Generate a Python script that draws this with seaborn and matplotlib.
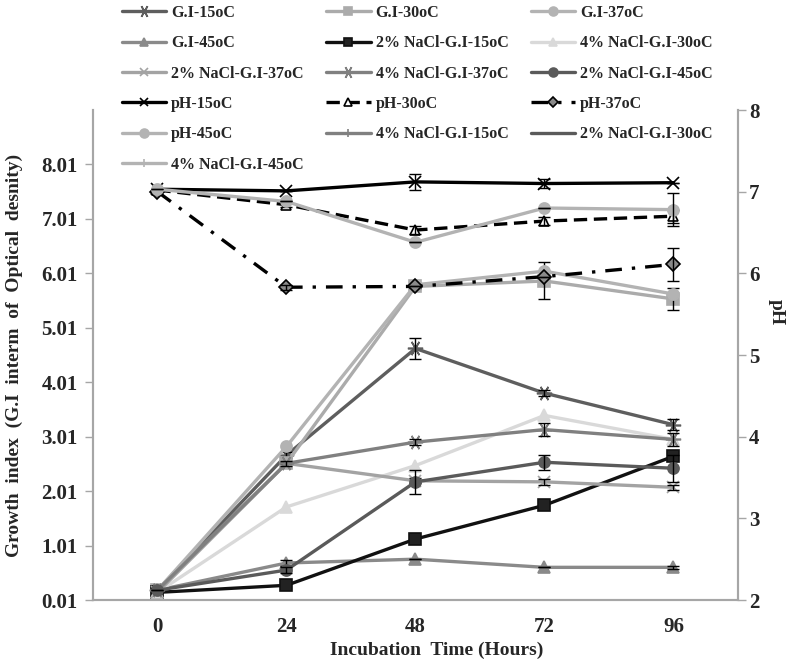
import matplotlib
matplotlib.use("Agg")
import matplotlib.pyplot as plt
import seaborn as sns

# Incubation times (hours)
hours = [0, 24, 48, 72, 96]

# Growth index (left axis)
gi_15 = [0.19, 2.67, 4.63, 3.81, 3.23]
gi_30 = [0.19, 2.52, 5.77, 5.87, 5.54]
gi_37 = [0.19, 2.83, 5.80, 6.05, 5.63]
gi_45 = [0.19, 0.69, 0.76, 0.61, 0.61]
nacl2_15 = [0.15, 0.28, 1.13, 1.75, 2.65]
nacl4_30 = [0.15, 1.72, 2.48, 3.40, 2.96]
nacl2_37 = [0.15, 2.52, 2.20, 2.18, 2.08]
nacl4_37 = [0.19, 2.52, 2.91, 3.14, 2.96]
nacl2_45 = [0.19, 0.56, 2.18, 2.54, 2.43]

# pH (right axis)
ph_15 = [7.03, 7.01, 7.12, 7.10, 7.11]
ph_30 = [7.02, 6.84, 6.53, 6.64, 6.70]
ph_37 = [7.00, 5.83, 5.84, 5.96, 6.11]
ph_45 = [7.03, 6.88, 6.38, 6.80, 6.78]

# error bars
gi_15_err = [0, 0.05, 0.20, 0.05, 0.10]
gi_30_err = [0, 0, 0.03, 0.34, 0.20]
gi_45_err = [0, 0.05, 0, 0, 0.03]
nacl2_37_err = [0, 0, 0.05, 0.06, 0.05]
nacl4_37_err = [0, 0.05, 0.06, 0.12, 0.12]
nacl2_45_err = [0, 0.05, 0.22, 0.14, 0.25]
ph_15_err = [0, 0, 0.10, 0.06, 0]
ph_30_err = [0, 0.03, 0.05, 0.05, 0.08]
ph_37_err = [0, 0.03, 0, 0, 0.20]
ph_45_err = [0, 0, 0, 0, 0.20]

legend_order = ["G.I-15oC", "G.I-30oC", "G.I-37oC",
                "G.I-45oC", "2% NaCl-G.I-15oC", "4% NaCl-G.I-30oC",
                "2% NaCl-G.I-37oC", "4% NaCl-G.I-37oC", "2% NaCl-G.I-45oC",
                "pH-15oC", "pH-30oC", "pH-37oC",
                "pH-45oC", "4% NaCl-G.I-15oC", "2% NaCl-G.I-30oC",
                "4% NaCl-G.I-45oC"]

sns.set_theme(style="white")
plt.rcParams['font.family'] = ['Liberation Serif', 'DejaVu Serif']
plt.rcParams['font.weight'] = 'bold'

asterisk = (6, 2, 90)

# label, values, errors, axis, color, marker, linestyle, marker face
series = [
    ("G.I-15oC", gi_15, gi_15_err, "left", "#5e5e5e", asterisk, "-", "#5e5e5e"),
    ("G.I-30oC", gi_30, gi_30_err, "left", "#ababab", "s", "-", "#ababab"),
    ("G.I-37oC", gi_37, None, "left", "#b3b3b3", "o", "-", "#b3b3b3"),
    ("G.I-45oC", gi_45, gi_45_err, "left", "#8a8a8a", "^", "-", "#8a8a8a"),
    ("2% NaCl-G.I-15oC", nacl2_15, None, "left", "#111111", "s", "-", "#222222"),
    ("4% NaCl-G.I-30oC", nacl4_30, None, "left", "#d9d9d9", "^", "-", "#d9d9d9"),
    ("2% NaCl-G.I-37oC", nacl2_37, nacl2_37_err, "left", "#a3a3a3", "x", "-", "#a3a3a3"),
    ("4% NaCl-G.I-37oC", nacl4_37, nacl4_37_err, "left", "#808080", asterisk, "-", "#808080"),
    ("2% NaCl-G.I-45oC", nacl2_45, nacl2_45_err, "left", "#5a5a5a", "o", "-", "#5a5a5a"),
    ("pH-15oC", ph_15, ph_15_err, "right", "#000000", "x", "-", "#000000"),
    ("pH-30oC", ph_30, ph_30_err, "right", "#000000", "^", (0, (4, 2)), "white"),
    ("pH-37oC", ph_37, ph_37_err, "right", "#000000", "D", (0, (5, 3, 1, 3)), "#8a8a8a"),
    ("pH-45oC", ph_45, ph_45_err, "right", "#b3b3b3", "o", "-", "#b3b3b3"),
]

# entries that appear only in the legend
legend_only = [
    ("4% NaCl-G.I-15oC", "#808080", "|"),
    ("2% NaCl-G.I-30oC", "#5a5a5a", None),
    ("4% NaCl-G.I-45oC", "#b3b3b3", "|"),
]

fig = plt.figure(figsize=(7.96, 6.6), dpi=100)
ax = fig.add_axes([0.1168, 0.0909, 0.8103, 0.7424])
ax2 = ax.twinx()

handles = {}
for label, vals, err, side, color, marker, ls, face in series:
    target = ax if side == "left" else ax2
    if marker == asterisk:
        msize = 11
    elif marker in ("D", "^") and side == "right":
        msize = 7
    else:
        msize = 8
    sns.lineplot(x=hours, y=vals, ax=target, color=color, linewidth=2.4,
                 linestyle=ls, marker=marker, markersize=msize,
                 markerfacecolor=face, markeredgecolor=color if face != "white" else "black",
                 markeredgewidth=1.2, label=label, legend=False)
    handles[label] = target.get_lines()[-1]
    if err is not None:
        target.errorbar(hours, vals, yerr=err, fmt="none", ecolor="black",
                        elinewidth=1, capsize=4, capthick=1)

for label, color, marker in legend_only:
    line, = ax.plot([], [], color=color, linewidth=2.4, marker=marker,
                    markersize=8, markeredgewidth=1.2, label=label)
    handles[label] = line

# axes styling
ax.set_xlim(-12, 108)
ax.set_xticks(hours)
ax.set_xticklabels([str(h) for h in hours])
ax.set_ylim(0.01, 9.01)
ax.set_yticks([0.01 + i for i in range(9)])
ax.set_yticklabels([f"{0.01 + i:.2f}" for i in range(9)])
ax2.set_ylim(2, 8)
ax2.set_yticks(range(2, 9))

for a in (ax, ax2):
    a.grid(False)
    a.spines['top'].set_visible(False)
    for s in ('left', 'right', 'bottom'):
        a.spines[s].set_color('#a6a6a6')
        a.spines[s].set_linewidth(1.5)

ax.tick_params(axis='x', length=0, pad=12, labelsize=15)
ax.tick_params(axis='y', length=6, width=1, color='#a6a6a6', labelsize=15, pad=5)
ax2.tick_params(axis='y', length=6, width=1, color='#a6a6a6', labelsize=15, pad=2)

ax.set_xlabel("Incubation  Time (Hours)", fontsize=14, fontweight='bold')
ax.xaxis.set_label_coords(0.533, -0.085)
ax.set_ylabel("Growth  index  (G.I  interm  of  Optical  desnity)", fontsize=14, fontweight='bold')
ax.yaxis.set_label_coords(-0.108, 0.5)
ax2.set_ylabel("pH", fontsize=14, fontweight='bold', rotation=270, va='center')
ax2.yaxis.set_label_coords(1.06, 0.588)

fig.legend([handles[l] for l in legend_order[0::3]] + [handles[l] for l in legend_order[1::3]]
           + [handles[l] for l in legend_order[2::3]],
           legend_order[0::3] + legend_order[1::3] + legend_order[2::3],
           ncol=3, loc='upper left', bbox_to_anchor=(0.1508, 0.995),
           frameon=False, fontsize=11.5, handlelength=2.8, handletextpad=0.3,
           columnspacing=1.4, labelspacing=0.9, borderpad=0.1, borderaxespad=0.0,
           markerscale=0.8)

plt.savefig("out.png", dpi=100)
